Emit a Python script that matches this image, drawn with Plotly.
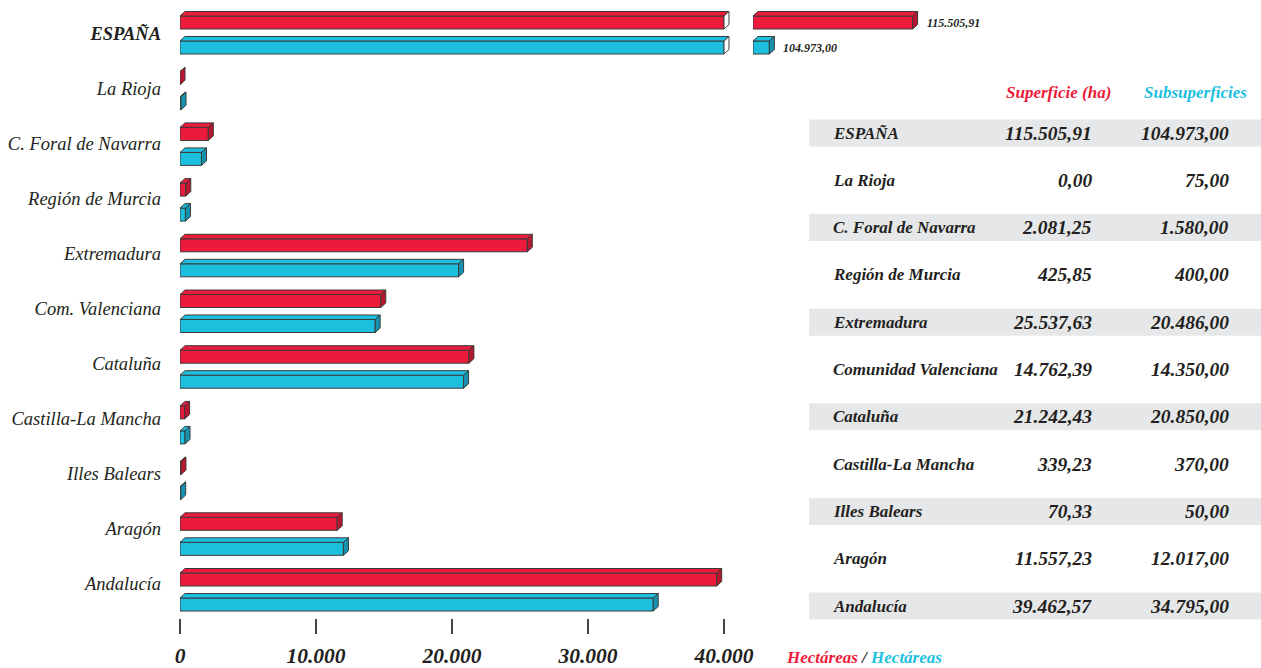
import plotly.graph_objects as go

# ---------------- data ----------------
regions = ["ESPAÑA", "La Rioja", "C. Foral de Navarra", "Región de Murcia", "Extremadura",
           "Com. Valenciana", "Cataluña", "Castilla-La Mancha", "Illes Balears", "Aragón", "Andalucía"]
table_names = ["ESPAÑA", "La Rioja", "C. Foral de Navarra", "Región de Murcia", "Extremadura",
               "Comunidad Valenciana", "Cataluña", "Castilla-La Mancha", "Illes Balears", "Aragón", "Andalucía"]
superficie = [115505.91, 0.00, 2081.25, 425.85, 25537.63, 14762.39, 21242.43, 339.23, 70.33, 11557.23, 39462.57]
subsuperficies = [104973.00, 75.00, 1580.00, 400.00, 20486.00, 14350.00, 20850.00, 370.00, 50.00, 12017.00, 34795.00]
series_names = ["Superficie (ha)", "Subsuperficies"]
unit_labels = ["Hectáreas", "Hectáreas"]
x_tickvals = [0, 10000, 20000, 30000, 40000]
x_ticktext = ["0", "10.000", "20.000", "30.000", "40.000"]
AXIS_BREAK = 40000          # main axis ends here
BREAK_START = 103770        # value where the broken segment restarts

# ---------------- style / geometry ----------------
W, H = 1261, 668
ML, MR, MT, MB = 180, 0, 0, 50
PW, PH = W - ML - MR, H - MT - MB
PX_PER_UNIT = 544 / 40000
CAT_PX = 55.7
FIRST_CAT_PX = 35
LABEL_PX0, LABEL_PITCH = 33.5, 55.0
RED, CYAN = "#ED1B3B", "#1DBFDF"
RED_SIDE, CYAN_SIDE = "#B8152E", "#1693AE"
EDGE = "#3a3a3a"
TXT = "#231f20"
FONT = "Liberation Serif"

X1_MAX = 41500
X2_PX0, X2_PX1 = 753, 950
x1_dom = [0, X1_MAX * PX_PER_UNIT / PW]
x2_dom = [(X2_PX0 - ML) / PW, (X2_PX1 - ML) / PW]
x2_range = [BREAK_START, BREAK_START + (X2_PX1 - X2_PX0) / PX_PER_UNIT]
y_top = -FIRST_CAT_PX / CAT_PX
y_range = [y_top + PH / CAT_PX, y_top]

BAR_W = 13 / CAT_PX
CENTER_OFF = 12.5 / CAT_PX
DX = 5 / PX_PER_UNIT
DY = 4.5 / CAT_PX

def px2paper_x(px):
    return (px - ML) / PW

def px2paper_y(py):
    return (PH - (py - MT)) / PH

def fmt_es(v):
    s = f"{v:,.2f}"
    return s.replace(",", "X").replace(".", ",").replace("X", ".")

fig = go.Figure()
shapes = []
annotations = []

def poly(xref, pts, fill):
    d = "M " + " L ".join(f"{x},{y}" for x, y in pts) + " Z"
    return dict(type="path", xref=xref, yref="y", path=d, fillcolor=fill,
                line=dict(color=EDGE, width=1), layer="above")

idx = list(range(len(regions)))
series = [(superficie, RED, RED_SIDE, -CENTER_OFF), (subsuperficies, CYAN, CYAN_SIDE, CENTER_OFF)]

for (vals, col, side, off), name in zip(series, series_names):
    main_vals = [min(v, AXIS_BREAK) for v in vals]
    fig.add_trace(go.Bar(
        x=main_vals, y=idx, orientation="h", width=BAR_W, offset=off - BAR_W / 2,
        marker=dict(color=col, line=dict(color=EDGE, width=1)), name=name,
        xaxis="x", yaxis="y", showlegend=False, hoverinfo="skip"))
    # 3D faces for main segment
    for i, (v, mv) in enumerate(zip(vals, main_vals)):
        yt = i + off - BAR_W / 2
        yb = i + off + BAR_W / 2
        shapes.append(poly("x", [(0, yt), (DX, yt - DY), (mv + DX, yt - DY), (mv, yt)], col))
        shapes.append(poly("x", [(mv, yt), (mv + DX, yt - DY), (mv + DX, yb - DY), (mv, yb)],
                           "white" if v > AXIS_BREAK else side))
    # broken segment
    br_y = [i for i, v in enumerate(vals) if v > AXIS_BREAK]
    br_x = [vals[i] - BREAK_START for i in br_y]
    fig.add_trace(go.Bar(
        x=br_x, y=br_y, base=BREAK_START, orientation="h", width=BAR_W, offset=off - BAR_W / 2,
        marker=dict(color=col, line=dict(color=EDGE, width=1)),
        xaxis="x2", yaxis="y", showlegend=False, hoverinfo="skip"))
    for i in br_y:
        v = vals[i]
        yt = i + off - BAR_W / 2
        yb = i + off + BAR_W / 2
        shapes.append(poly("x2", [(BREAK_START, yt), (BREAK_START + DX, yt - DY), (v + DX, yt - DY), (v, yt)], col))
        shapes.append(poly("x2", [(v, yt), (v + DX, yt - DY), (v + DX, yb - DY), (v, yb)], side))
        annotations.append(dict(xref="x2", yref="y", x=v + DX, y=i + off, xanchor="left", yanchor="middle",
                                xshift=7, text=fmt_es(v), showarrow=False,
                                font=dict(family=FONT, size=12, color=TXT, style="italic", weight="bold")))

# ---------------- table ----------------
ROW0, ROW_PX = 133, 47.3
NAME_X, C1_X, C2_X = 831, 1094, 1231
for i, (nm, a, b) in enumerate(zip(table_names, superficie, subsuperficies)):
    cy = ROW0 + i * ROW_PX
    if i % 2 == 0:
        shapes.append(dict(type="rect", xref="paper", yref="paper",
                           x0=px2paper_x(809), x1=px2paper_x(1261),
                           y0=px2paper_y(cy - 13.5), y1=px2paper_y(cy + 13.5),
                           fillcolor="#E6E7E8", line=dict(width=0), layer="below"))
    fn = dict(family=FONT, size=17, color=TXT, style="italic", weight="bold")
    fv = dict(family=FONT, size=19.5, color=TXT, style="italic", weight="bold")
    annotations.append(dict(xref="paper", yref="paper", x=px2paper_x(NAME_X), y=px2paper_y(cy),
                            xanchor="left", yanchor="middle", text=nm, showarrow=False, font=fn))
    annotations.append(dict(xref="paper", yref="paper", x=px2paper_x(C1_X), y=px2paper_y(cy),
                            xanchor="right", yanchor="middle", text=fmt_es(a), showarrow=False, font=fv))
    annotations.append(dict(xref="paper", yref="paper", x=px2paper_x(C2_X), y=px2paper_y(cy),
                            xanchor="right", yanchor="middle", text=fmt_es(b), showarrow=False, font=fv))

for nm, col, cx in zip(series_names, [RED, CYAN], [1058, 1195]):
    annotations.append(dict(xref="paper", yref="paper", x=px2paper_x(cx), y=px2paper_y(92),
                            xanchor="center", yanchor="middle", text=nm, showarrow=False,
                            font=dict(family=FONT, size=17, color=col, style="italic", weight="bold")))

annotations.append(dict(xref="paper", yref="paper", x=px2paper_x(784), y=px2paper_y(657),
                        xanchor="left", yanchor="middle", showarrow=False,
                        text=f"<span style='color:{RED}'>{unit_labels[0]}</span> / "
                             f"<span style='color:{CYAN}'>{unit_labels[1]}</span>",
                        font=dict(family=FONT, size=17, color=TXT, style="italic", weight="bold")))

ticktext_y = [f"<b>{r}</b>" if i == 0 else r for i, r in enumerate(regions)]
tickvals_y = [(LABEL_PX0 + i * LABEL_PITCH - FIRST_CAT_PX) / CAT_PX for i in idx]

fig.update_layout(
    width=W, height=H, margin=dict(l=ML, r=MR, t=MT, b=MB, autoexpand=False),
    paper_bgcolor="white", plot_bgcolor="rgba(0,0,0,0)",
    barmode="overlay", showlegend=False,
    shapes=shapes, annotations=annotations,
    xaxis=dict(domain=x1_dom, range=[0, X1_MAX], tickvals=x_tickvals, ticktext=x_ticktext,
               showgrid=False, zeroline=False, showline=False, ticks="outside", ticklen=15,
               tickwidth=1.5, tickcolor="#444", ticklabelstandoff=3, automargin=False,
               tickfont=dict(family=FONT, size=21.5, color=TXT, style="italic", weight="bold"),
               anchor="y"),
    xaxis2=dict(domain=x2_dom, range=x2_range, visible=False, anchor="y", automargin=False),
    yaxis=dict(range=y_range, tickvals=tickvals_y, ticktext=ticktext_y, showgrid=False, zeroline=False,
               showline=False, ticks="", ticklabelstandoff=18, automargin=False,
               tickfont=dict(family=FONT, size=18.5, color=TXT, style="italic"),
               anchor="x"),
)

fig.write_html("out.html", config={"displayModeBar": False},
               post_script="document.body.style.margin='0';document.body.style.padding='0';"
                           "document.body.style.overflow='hidden';")
